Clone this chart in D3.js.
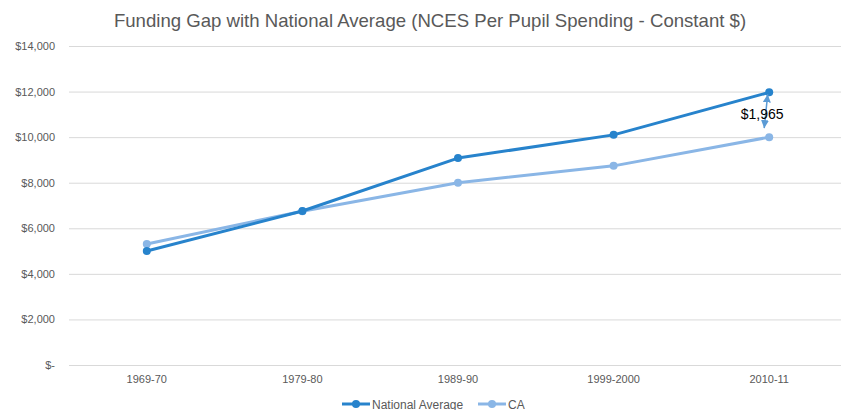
<!DOCTYPE html>
<html><head><meta charset="utf-8">
<script src="https://cdn.jsdelivr.net/npm/d3@7/dist/d3.min.js"></script>
<style>body{margin:0;background:#fff;} svg{display:block;font-family:"Liberation Sans",Arial,sans-serif;}</style>
</head><body>
<script>
const categories = ["1969-70","1979-80","1989-90","1999-2000","2010-11"];
const nationalAverage = [5000, 6760, 9080, 10100, 11965];
const ca = [5310, 6750, 8000, 8740, 10000];
const yTicks = [0,2000,4000,6000,8000,10000,12000,14000];
const gapLabel = "$1,965";
const seriesNames = ["National Average","CA"];
const colors = ["#2783CC","#8AB6E6"];

const W=841,H=410;
const svg=d3.select("body").append("svg").attr("width",W).attr("height",H);
const x=d3.scaleBand().domain(categories).range([69,847]);
const y=d3.scaleLinear().domain([0,14000]).range([365,46]);

svg.append("text").attr("x",430).attr("y",27).attr("text-anchor","middle")
  .attr("font-size",18.6).attr("fill","#595959")
  .text("Funding Gap with National Average (NCES Per Pupil Spending - Constant $)");

const fmt=v=>v===0?"$-":"$"+d3.format(",")(v);
svg.append("g").selectAll("line").data(yTicks).join("line")
  .attr("x1",69).attr("x2",847).attr("y1",d=>y(d)+0.5).attr("y2",d=>y(d)+0.5)
  .attr("stroke","#d9d9d9").attr("stroke-width",1);
svg.append("g").selectAll("text").data(yTicks).join("text")
  .attr("x",55).attr("y",d=>y(d)+4).attr("text-anchor","end")
  .attr("font-size",11).attr("fill","#595959").text(fmt);
svg.append("g").selectAll("text").data(categories).join("text")
  .attr("x",d=>x(d)+x.bandwidth()/2).attr("y",383).attr("text-anchor","middle")
  .attr("font-size",11).attr("fill","#595959").text(d=>d);

const series=[nationalAverage,ca];
const line=d3.line().x((d,i)=>x(categories[i])+x.bandwidth()/2).y(d=>y(d));
[1,0].forEach(k=>{
  const g=svg.append("g");
  g.append("path").attr("d",line(series[k])).attr("fill","none")
   .attr("stroke",colors[k]).attr("stroke-width",3).attr("stroke-linejoin","round");
  g.selectAll("circle").data(series[k]).join("circle")
   .attr("cx",(d,i)=>x(categories[i])+x.bandwidth()/2).attr("cy",d=>y(d))
   .attr("r",4).attr("fill",colors[k]);
});

// gap annotation arrow
const defs=svg.append("defs");
defs.append("marker").attr("id","ah").attr("viewBox","0 0 10 10").attr("refX",10).attr("refY",5)
  .attr("markerUnits","userSpaceOnUse").attr("markerWidth",8).attr("markerHeight",8)
  .attr("orient","auto-start-reverse")
  .append("path").attr("d","M0,0L10,5L0,10z").attr("fill","#5B9BD5");
const lastX=x(categories[4])+x.bandwidth()/2;
svg.append("line").attr("x1",lastX-5).attr("y1",y(ca[4])-9).attr("x2",lastX-1.5).attr("y2",y(nationalAverage[4])+2)
  .attr("stroke","#5B9BD5").attr("stroke-width",1.5)
  .attr("marker-start","url(#ah)").attr("marker-end","url(#ah)");
svg.append("text").attr("x",lastX-7).attr("y",119).attr("text-anchor","middle")
  .attr("font-size",14).attr("fill","#000").text(gapLabel);

// legend
const leg=[{x:342,tx:372},{x:478,tx:508}];
seriesNames.forEach((n,k)=>{
  const g=svg.append("g");
  g.append("line").attr("x1",leg[k].x).attr("x2",leg[k].x+28).attr("y1",404).attr("y2",404)
   .attr("stroke",colors[k]).attr("stroke-width",3);
  g.append("circle").attr("cx",leg[k].x+14).attr("cy",404).attr("r",4).attr("fill",colors[k]);
  g.append("text").attr("x",leg[k].tx).attr("y",408.5).attr("font-size",12).attr("fill","#595959").text(n);
});
</script>
</body></html>
